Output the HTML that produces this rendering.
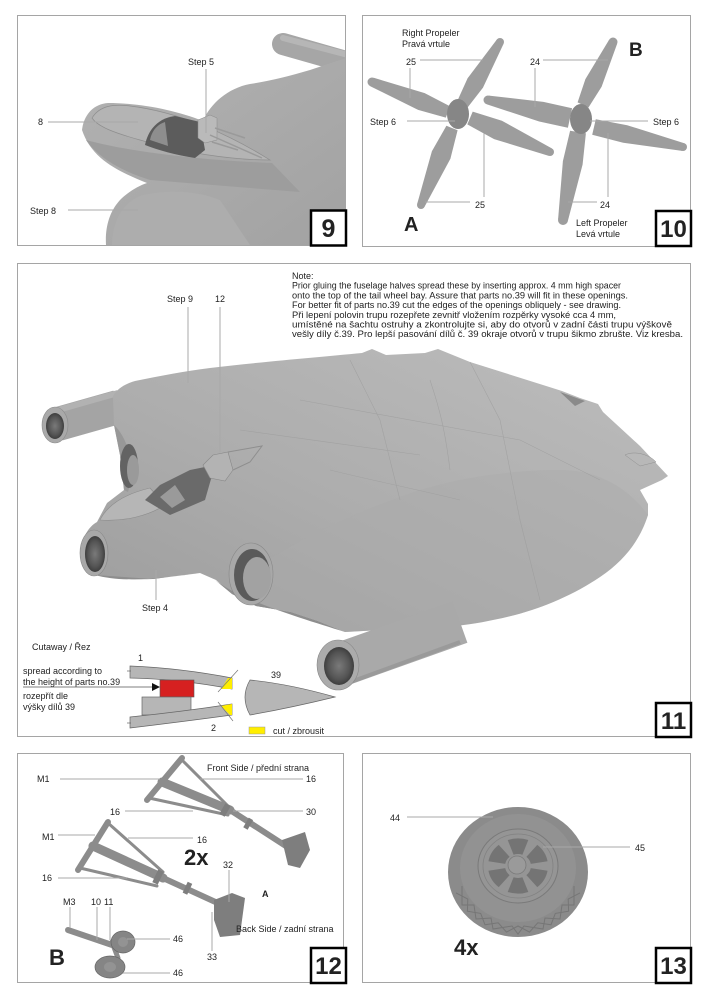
<!DOCTYPE html>
<html><head><meta charset="utf-8"><style>
html,body{margin:0;padding:0;background:#fff;}
svg{display:block;}
text{font-family:"Liberation Sans",Arial,sans-serif;fill:#222;}
</style></head><body>
<svg width="707" height="1000" viewBox="0 0 707 1000" xmlns="http://www.w3.org/2000/svg">
<defs>
<linearGradient id="g9" x1="0" y1="0" x2="1" y2="1"><stop offset="0" stop-color="#b2b2b2"/><stop offset="1" stop-color="#a2a2a2"/></linearGradient>
<linearGradient id="g11" x1="0" y1="1" x2="1" y2="0"><stop offset="0" stop-color="#9c9c9c"/><stop offset="0.45" stop-color="#adadad"/><stop offset="1" stop-color="#bdbdbd"/></linearGradient>
<radialGradient id="hole" cx="0.5" cy="0.5" r="0.5"><stop offset="0" stop-color="#7a7a7a"/><stop offset="0.7" stop-color="#555"/><stop offset="1" stop-color="#3e3e3e"/></radialGradient>
<clipPath id="c9"><rect x="18" y="16" width="327" height="229"/></clipPath>
<clipPath id="c11"><rect x="18" y="264" width="672" height="473"/></clipPath>
</defs>
<rect width="707" height="1000" fill="#fff"/>

<!-- ============ PANEL 9 ============ -->
<rect x="17.5" y="15.5" width="328" height="230" fill="none" stroke="#a5a5a5" stroke-width="1"/>
<g clip-path="url(#c9)">
  <line x1="283" y1="44" x2="360" y2="66" stroke="#a6a6a6" stroke-width="22" stroke-linecap="round"/>
  <line x1="283" y1="38" x2="360" y2="58" stroke="#b6b6b6" stroke-width="6" stroke-linecap="round"/>
  <path d="M82,130 C84,114 94,104 108,103 C140,103 175,110 203,121 C210,104 228,88 250,84 C270,81 290,76 310,70 L346,58 L346,245 L106,245 C105,228 109,212 120,200 C128,192 138,186 147,183 C120,172 92,160 82,130 Z" fill="url(#g9)"/>
  <path d="M86,140 C100,160 125,172 150,180 L300,192 L272,163 C200,160 130,152 86,140 Z" fill="#9d9d9d"/>
  <path d="M112,245 C112,222 122,204 140,196 C170,188 200,192 220,200 L250,245 Z" fill="#adadad"/>
  <path d="M92,118 C100,105 115,104 130,106 C180,112 230,135 270,160 C230,160 180,152 140,140 C115,133 98,127 92,118 Z" fill="#b4b4b4" stroke="#8e8e8e" stroke-width="0.7"/>
  <path d="M145,145 C148,130 158,118 175,116 L200,122 L205,150 L195,158 C175,155 158,150 145,145 Z" fill="#5c5c5c"/>
  <path d="M150,140 C152,130 158,124 165,122 L168,146 Z" fill="#8e8e8e"/>
  <path d="M198,120 L210,115 L217,118 L217,140 L205,143 L198,138 Z" fill="#bababa" stroke="#8a8a8a" stroke-width="0.5"/>
  <path d="M210,135 L262,158 M215,128 L245,138 M212,142 L238,150" stroke="#9a9a9a" stroke-width="1.5" fill="none"/>
</g>
<g stroke="#a8a8a8" stroke-width="1">
  <line x1="206" y1="69" x2="206" y2="133"/>
  <line x1="48" y1="122" x2="138" y2="122"/>
  <line x1="68" y1="210" x2="138" y2="210"/>
</g>
<text x="188" y="65" font-size="9">Step 5</text>
<text x="38" y="125" font-size="9">8</text>
<text x="30" y="214" font-size="9">Step 8</text>
<rect x="311" y="210.5" width="35" height="35" fill="#fff" stroke="#000" stroke-width="2.5"/>
<text x="328.5" y="237" font-size="25" font-weight="bold" text-anchor="middle" fill="#000">9</text>

<!-- ============ PANEL 10 ============ -->
<rect x="362.5" y="15.5" width="328" height="231" fill="none" stroke="#a5a5a5" stroke-width="1"/>
<g fill="#9d9d9d">
  <!-- prop A -->
  <polygon points="456.9,101.9 467.6,78.3 496.6,39.9 503.4,44.1 483.0,87.6 467.1,108.1"/><circle cx="500" cy="42" r="4"/>
  <polygon points="450.2,106.4 424.7,93.1 373.7,77.8 370.3,86.2 418.1,109.9 445.8,117.6"/><circle cx="372" cy="82" r="4.5"/>
  <polygon points="457.6,130.2 450.4,158.7 424.7,206.5 417.3,203.5 431.9,151.2 446.4,125.8"/><circle cx="421" cy="205" r="4"/>
  <polygon points="472.7,111.6 501.9,120.7 551.6,148.3 548.4,155.7 494.1,139.1 467.3,124.4"/><circle cx="550" cy="152" r="4"/>
  <ellipse cx="458" cy="114" rx="11" ry="15" fill="#868686"/>
  <!-- prop B -->
  <polygon points="577.6,102.4 585.4,79.1 608.9,40.1 617.1,43.9 601.6,86.8 588.4,107.6"/><circle cx="613" cy="42" r="4.5"/>
  <polygon points="572.1,108.2 543.4,101.9 489,95.6 487,104.4 539.2,121.5 567.9,127.8"/><circle cx="488" cy="100" r="4.5"/>
  <polygon points="585.9,133.3 582.6,164.5 567.9,220.8 558.1,219.2 562.9,161.1 570.1,130.7"/><circle cx="563" cy="220" r="5"/>
  <polygon points="595.8,119.2 627.2,125.2 683.9,143.1 682.1,150.9 623.2,142.8 592.2,134.8"/><circle cx="683" cy="147" r="4"/>
  <ellipse cx="581" cy="119" rx="11" ry="15" fill="#868686"/>
</g>
<g stroke="#a8a8a8" stroke-width="1">
  <line x1="420" y1="60" x2="483" y2="60"/>
  <line x1="410" y1="68" x2="410" y2="98"/>
  <line x1="407" y1="121" x2="455" y2="121"/>
  <line x1="425" y1="202" x2="470" y2="202"/>
  <line x1="484" y1="133" x2="484" y2="197"/>
  <line x1="543" y1="60" x2="608" y2="60"/>
  <line x1="535" y1="68" x2="535" y2="107"/>
  <line x1="590" y1="121" x2="648" y2="121"/>
  <line x1="568" y1="202" x2="597" y2="202"/>
  <line x1="608" y1="133" x2="608" y2="197"/>
</g>
<text x="402" y="36" font-size="9">Right Propeler</text>
<text x="402" y="47" font-size="9">Pravá vrtule</text>
<text x="406" y="65" font-size="9">25</text>
<text x="370" y="125" font-size="9">Step 6</text>
<text x="475" y="208" font-size="9">25</text>
<text x="404" y="231" font-size="20" font-weight="900" fill="#000">A</text>
<text x="629" y="56" font-size="19" font-weight="900" fill="#000">B</text>
<text x="530" y="65" font-size="9">24</text>
<text x="653" y="125" font-size="9">Step 6</text>
<text x="600" y="208" font-size="9">24</text>
<text x="576" y="226" font-size="9">Left Propeler</text>
<text x="576" y="237" font-size="9">Levá vrtule</text>
<rect x="656" y="211" width="35" height="35" fill="#fff" stroke="#000" stroke-width="2.5"/>
<text x="673.5" y="237" font-size="24" font-weight="bold" text-anchor="middle" fill="#000">10</text>

<!-- ============ PANEL 11 ============ -->
<rect x="17.5" y="263.5" width="673" height="473" fill="none" stroke="#a5a5a5" stroke-width="1"/>
<g clip-path="url(#c11)">
  <!-- left pipe -->
  <line x1="58" y1="424" x2="118" y2="407" stroke="#a4a4a4" stroke-width="34"/>
  <line x1="58" y1="410" x2="118" y2="393" stroke="#b2b2b2" stroke-width="6"/>
  <ellipse cx="55" cy="425" rx="13" ry="18" fill="#a9a9a9" stroke="#8c8c8c" stroke-width="0.6"/>
  <ellipse cx="55" cy="426" rx="9" ry="13" fill="url(#hole)"/>
  <!-- main body -->
  <path d="M97,522 L107,503 L124,490 L120,455 L114,425 L113,396 C118,388 125,384 135,381 C160,376 185,371 210,368 C260,362 320,357 362,353 L372,349 L386,355 L425,353 L438,349 L470,362 L562,391 L580,398 L598,404 L603,412 L640,446 L668,476 L662,480 L640,490 L648,504 L648,515 C640,540 625,560 600,577 C575,594 545,607 515,615 C495,620 475,624 455,626 L345,632 L318,621 L291,612 L256,606 L232,594 L216,580 L200,573 L153,579 C130,580 110,578 95,575 L80,553 C82,538 88,527 97,522 Z" fill="url(#g11)"/>
  <!-- nacelle shading -->
  <path d="M114,425 C130,440 135,470 128,492 L124,490 L120,455 Z" fill="#989898"/>
  <path d="M230,590 C260,560 330,520 420,490 C470,475 520,470 560,470 C600,470 630,490 648,515 C640,540 625,560 600,577 C575,594 545,607 515,615 C475,624 420,628 345,632 L318,621 L291,612 L256,606 Z" fill="#aaaaaa" opacity="0.45"/>
  <path d="M215,580 C240,600 300,618 345,632 L318,621 L291,612 L256,606 L232,594 Z" fill="#8e8e8e"/>
  <path d="M95,575 C120,582 150,580 200,573 L153,579 Z" fill="#8e8e8e"/>
  <!-- panel lines -->
  <g stroke="#9e9e9e" stroke-width="0.6" fill="none" opacity="0.8">
    <path d="M300,400 L520,440 L600,480"/>
    <path d="M350,360 L380,420 L400,500"/>
    <path d="M470,362 L500,420 L520,520 L540,600"/>
    <path d="M240,430 L420,455"/>
    <path d="M430,380 C440,410 445,430 450,470"/>
    <path d="M330,470 C370,480 420,490 460,500"/>
  </g>
  <path d="M560,392 L585,401 L575,406 Z" fill="#8a8a8a"/>
  <path d="M625,455 C635,450 650,455 656,462 L640,466 Z" fill="#b8b8b8" stroke="#909090" stroke-width="0.5"/>
  <!-- nose canopy & cockpit -->
  <path d="M100,520 C108,504 125,494 150,488 L165,505 C150,515 125,522 100,520 Z" fill="#b6b6b6" stroke="#8c8c8c" stroke-width="0.6"/>
  <path d="M145,500 L160,485 L190,470 L215,465 L205,500 L170,515 Z" fill="#6a6a6a"/>
  <path d="M160,497 L175,485 L185,500 L172,508 Z" fill="#9a9a9a"/>
  <path d="M203,465 L213,455 L228,452 L233,470 L225,481 L210,478 Z" fill="#b3b3b3" stroke="#888" stroke-width="0.6"/>
  <path d="M228,452 L262,446 L250,462 L233,470" fill="none" stroke="#8e8e8e" stroke-width="1"/>
  <!-- intakes -->
  <ellipse cx="129" cy="466" rx="9" ry="22" fill="#636363"/>
  <ellipse cx="133" cy="470" rx="6" ry="15" fill="#9a9a9a"/>
  <ellipse cx="94" cy="553" rx="14" ry="23" fill="#a8a8a8" stroke="#888" stroke-width="0.6"/>
  <ellipse cx="95" cy="554" rx="10" ry="18" fill="url(#hole)"/>
  <ellipse cx="251" cy="574" rx="22" ry="31" fill="#a8a8a8" stroke="#888" stroke-width="0.6"/>
  <ellipse cx="252" cy="575" rx="18" ry="26" fill="#5a5a5a"/>
  <ellipse cx="257" cy="578" rx="14" ry="21" fill="#a2a2a2"/>
  <!-- bottom pipe -->
  <line x1="345" y1="663" x2="460" y2="622" stroke="#a9a9a9" stroke-width="44"/>
  <line x1="345" y1="684" x2="460" y2="642" stroke="#9a9a9a" stroke-width="4"/>
  <ellipse cx="338" cy="665" rx="21" ry="25" fill="#ababab" stroke="#888" stroke-width="0.6"/>
  <ellipse cx="339" cy="666" rx="15" ry="19" fill="url(#hole)"/>
</g>
<g stroke="#a8a8a8" stroke-width="1">
  <line x1="188" y1="307" x2="188" y2="383"/>
  <line x1="220" y1="307" x2="220" y2="452"/>
  <line x1="156" y1="570" x2="156" y2="600"/>
</g>
<text x="167" y="302" font-size="9">Step 9</text>
<text x="215" y="302" font-size="9">12</text>
<text x="142" y="611" font-size="9">Step 4</text>
<g font-size="9">
  <text x="292" y="279">Note:</text>
  <text x="292" y="288.7" textLength="329" lengthAdjust="spacingAndGlyphs">Prior gluing the fuselage halves spread these by inserting approx. 4 mm high spacer</text>
  <text x="292" y="298.4" textLength="336" lengthAdjust="spacingAndGlyphs">onto the top of the tail wheel bay. Assure that parts no.39 will fit in these openings.</text>
  <text x="292" y="308" textLength="329" lengthAdjust="spacingAndGlyphs">For better fit of parts no.39 cut the edges of the openings obliquely - see drawing.</text>
  <text x="292" y="317.8" textLength="324" lengthAdjust="spacingAndGlyphs">Při lepení polovin trupu rozepřete zevnitř vložením rozpěrky vysoké cca 4 mm,</text>
  <text x="292" y="327.5" textLength="380" lengthAdjust="spacingAndGlyphs">umístěné na šachtu ostruhy a zkontrolujte si, aby do otvorů v zadní části trupu výškově</text>
  <text x="292" y="337.2" textLength="391" lengthAdjust="spacingAndGlyphs">vešly díly č.39. Pro lepší pasování dílů č. 39 okraje otvorů v trupu šikmo zbrušte. Viz kresba.</text>
</g>
<!-- cutaway -->
<text x="32" y="650" font-size="9">Cutaway / Řez</text>
<text x="138" y="661" font-size="9">1</text>
<text x="23" y="674" font-size="9">spread according to</text>
<text x="23" y="685" font-size="9">the height of parts no.39</text>
<text x="23" y="699" font-size="9">rozepřít dle</text>
<text x="23" y="710" font-size="9">výšky dílů 39</text>
<line x1="23" y1="687" x2="154" y2="687" stroke="#555" stroke-width="0.8"/>
<polygon points="152,683 160,687 152,691" fill="#111"/>
<path d="M130,666 Q180,668 232,678 L232,689 Q180,679 130,678 Z" fill="#b6b6b6" stroke="#666" stroke-width="0.7"/>
<line x1="127" y1="671" x2="131" y2="671" stroke="#666" stroke-width="0.7"/>
<polygon points="228,678 232,678 232,689 221,689" fill="#ffee00"/>
<line x1="238" y1="670" x2="218" y2="692" stroke="#777" stroke-width="0.7"/>
<rect x="160" y="680" width="34" height="17" fill="#d62020" stroke="#555" stroke-width="0.6"/>
<rect x="142" y="697" width="49" height="18" fill="#b6b6b6" stroke="#666" stroke-width="0.7"/>
<path d="M130,717 Q180,712 232,704 L232,715 Q180,722 130,728 Z" fill="#b6b6b6" stroke="#666" stroke-width="0.7"/>
<line x1="127" y1="723" x2="131" y2="723" stroke="#666" stroke-width="0.7"/>
<polygon points="221,706 232,704 232,715 230,715" fill="#ffee00"/>
<line x1="218" y1="702" x2="233" y2="721" stroke="#777" stroke-width="0.7"/>
<text x="211" y="731" font-size="9">2</text>
<path d="M250,680 Q290,684 335,697 Q290,708 250,715 Q240,697 250,680 Z" fill="#b6b6b6" stroke="#666" stroke-width="0.7"/>
<text x="271" y="678" font-size="9">39</text>
<rect x="249" y="727" width="16" height="7" fill="#ffee00" stroke="#999" stroke-width="0.5"/>
<text x="273" y="734" font-size="9">cut / zbrousit</text>
<rect x="656" y="703" width="35" height="34" fill="#fff" stroke="#000" stroke-width="2.5"/>
<text x="673.5" y="729" font-size="24" font-weight="bold" text-anchor="middle" fill="#000">11</text>

<!-- ============ PANEL 12 ============ -->
<rect x="17.5" y="753.5" width="326" height="229" fill="none" stroke="#a5a5a5" stroke-width="1"/>
<g stroke="#8c8c8c" stroke-linecap="round" fill="none">
  <line x1="147" y1="800" x2="182" y2="758" stroke-width="6"/>
  <line x1="162" y1="782" x2="230" y2="810" stroke-width="9"/>
  <line x1="230" y1="810" x2="292" y2="850" stroke-width="6"/>
  <line x1="182" y1="760" x2="230" y2="808" stroke-width="3"/>
  <line x1="149" y1="798" x2="228" y2="815" stroke-width="3"/>
  <line x1="78" y1="870" x2="108" y2="822" stroke-width="6"/>
  <line x1="93" y1="846" x2="163" y2="878" stroke-width="9"/>
  <line x1="163" y1="878" x2="222" y2="905" stroke-width="6"/>
  <line x1="108" y1="823" x2="163" y2="872" stroke-width="3"/>
  <line x1="80" y1="868" x2="157" y2="886" stroke-width="3"/>
  <line x1="68" y1="930" x2="115" y2="946" stroke-width="6"/>
  <line x1="112" y1="942" x2="118" y2="958" stroke-width="5"/>
</g>
<g fill="#7e7e7e">
  <rect x="222" y="804" width="6" height="12" transform="rotate(30 225 810)"/>
  <rect x="246" y="818" width="5" height="11" transform="rotate(30 248 823)"/>
  <polygon points="282,840 305,832 310,850 300,868 288,865"/>
  <rect x="155" y="870" width="6" height="14" transform="rotate(25 158 877)"/>
  <rect x="185" y="882" width="5" height="12" transform="rotate(25 187 888)"/>
  <polygon points="214,900 232,893 245,898 240,935 220,937 214,920"/>
</g>
<ellipse cx="123" cy="942" rx="12" ry="11" fill="#858585" stroke="#666" stroke-width="0.7"/>
<ellipse cx="123" cy="942" rx="5" ry="5" fill="#939393"/>
<ellipse cx="110" cy="967" rx="15" ry="11" fill="#858585" stroke="#666" stroke-width="0.7"/>
<ellipse cx="110" cy="967" rx="6" ry="5" fill="#939393"/>
<g stroke="#a8a8a8" stroke-width="1">
  <line x1="60" y1="779" x2="160" y2="779"/>
  <line x1="200" y1="779" x2="303" y2="779"/>
  <line x1="125" y1="811" x2="193" y2="811"/>
  <line x1="233" y1="811" x2="303" y2="811"/>
  <line x1="58" y1="835" x2="95" y2="835"/>
  <line x1="128" y1="838" x2="193" y2="838"/>
  <line x1="58" y1="878" x2="127" y2="878"/>
  <line x1="229" y1="870" x2="229" y2="902"/>
  <line x1="212" y1="912" x2="212" y2="951"/>
  <line x1="70" y1="907" x2="70" y2="928"/>
  <line x1="97" y1="907" x2="97" y2="940"/>
  <line x1="110" y1="907" x2="110" y2="940"/>
  <line x1="127" y1="939" x2="170" y2="939"/>
  <line x1="123" y1="973" x2="170" y2="973"/>
</g>
<text x="207" y="771" font-size="9">Front Side / přední strana</text>
<text x="37" y="782" font-size="9">M1</text>
<text x="306" y="782" font-size="9">16</text>
<text x="110" y="815" font-size="9">16</text>
<text x="306" y="815" font-size="9">30</text>
<text x="42" y="840" font-size="9">M1</text>
<text x="197" y="843" font-size="9">16</text>
<text x="184" y="865" font-size="22" font-weight="900" fill="#000">2x</text>
<text x="42" y="881" font-size="9">16</text>
<text x="223" y="868" font-size="9">32</text>
<text x="262" y="897" font-size="9" font-weight="bold" fill="#000">A</text>
<text x="236" y="932" font-size="9">Back Side / zadní strana</text>
<text x="207" y="960" font-size="9">33</text>
<text x="63" y="905" font-size="9">M3</text>
<text x="91" y="905" font-size="9">10</text>
<text x="104" y="905" font-size="9">11</text>
<text x="173" y="942" font-size="9">46</text>
<text x="173" y="976" font-size="9">46</text>
<text x="49" y="965" font-size="22" font-weight="900" fill="#000">B</text>
<rect x="311" y="948" width="35" height="35" fill="#fff" stroke="#000" stroke-width="2.5"/>
<text x="328.5" y="974" font-size="24" font-weight="bold" text-anchor="middle" fill="#000">12</text>

<!-- ============ PANEL 13 ============ -->
<rect x="362.5" y="753.5" width="328" height="229" fill="none" stroke="#a5a5a5" stroke-width="1"/>
<ellipse cx="518" cy="872" rx="70" ry="65" fill="#8b8b8b"/>
<ellipse cx="518" cy="868" rx="58" ry="54" fill="#929292"/>
<g fill="none" stroke="#767676" stroke-width="1">
  <polyline points="580,892.9 568.2,899 568.6,911.2 555.3,913.4 551,924.8 537.8,922.8 529.5,932.1 518,926 506.5,932.1 498.2,922.8 485,924.8 480.7,913.4 467.4,911.2 467.8,899 456,892.9"/>
  <polyline points="574,886 574,905 562,905 560,919 545,918 543,929 524,926 518,934 512,926 493,929 491,918 476,919 474,905 462,905 462,886"/>
</g>
<ellipse cx="518" cy="866" rx="40" ry="37" fill="#959595" stroke="#7a7a7a" stroke-width="1"/>
<ellipse cx="518" cy="866" rx="35" ry="32" fill="none" stroke="#828282" stroke-width="0.8"/>
<g transform="translate(518,866) scale(1,0.92)" fill="#747474">
  <path d="M12.2,-4.4 L28.2,-10.3 A30,30 0 0 1 28.2,10.3 L12.2,4.4 A13,13 0 0 0 12.2,-4.4 Z" transform="rotate(30)"/>
  <path d="M12.2,-4.4 L28.2,-10.3 A30,30 0 0 1 28.2,10.3 L12.2,4.4 A13,13 0 0 0 12.2,-4.4 Z" transform="rotate(90)"/>
  <path d="M12.2,-4.4 L28.2,-10.3 A30,30 0 0 1 28.2,10.3 L12.2,4.4 A13,13 0 0 0 12.2,-4.4 Z" transform="rotate(150)"/>
  <path d="M12.2,-4.4 L28.2,-10.3 A30,30 0 0 1 28.2,10.3 L12.2,4.4 A13,13 0 0 0 12.2,-4.4 Z" transform="rotate(210)"/>
  <path d="M12.2,-4.4 L28.2,-10.3 A30,30 0 0 1 28.2,10.3 L12.2,4.4 A13,13 0 0 0 12.2,-4.4 Z" transform="rotate(270)"/>
  <path d="M12.2,-4.4 L28.2,-10.3 A30,30 0 0 1 28.2,10.3 L12.2,4.4 A13,13 0 0 0 12.2,-4.4 Z" transform="rotate(330)"/>
</g>
<circle cx="517" cy="865" r="9" fill="#9a9a9a" stroke="#7a7a7a" stroke-width="0.8"/>
<g stroke="#a8a8a8" stroke-width="1">
  <line x1="407" y1="817" x2="493" y2="817"/>
  <line x1="543" y1="847" x2="630" y2="847"/>
</g>
<text x="390" y="821" font-size="9">44</text>
<text x="635" y="851" font-size="9">45</text>
<text x="454" y="955" font-size="22" font-weight="900" fill="#000">4x</text>
<rect x="656" y="948" width="35" height="35" fill="#fff" stroke="#000" stroke-width="2.5"/>
<text x="673.5" y="974" font-size="24" font-weight="bold" text-anchor="middle" fill="#000">13</text>
</svg>
</body></html>
